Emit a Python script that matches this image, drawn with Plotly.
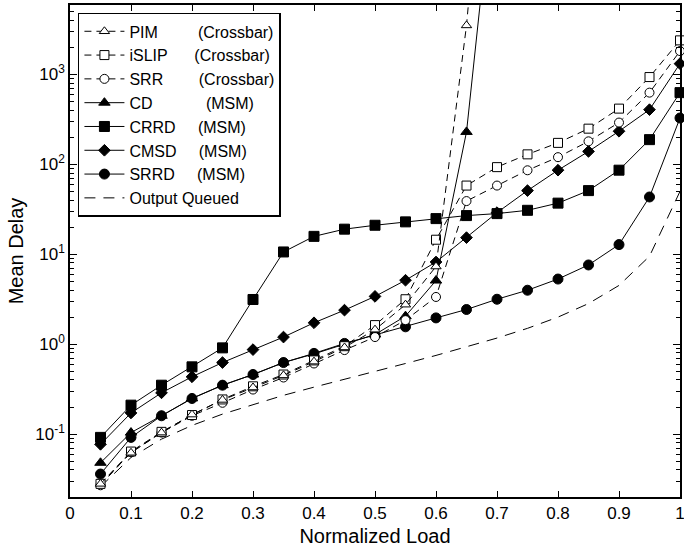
import plotly.graph_objects as go

load = [0.05, 0.10, 0.15, 0.20, 0.25, 0.30, 0.35, 0.40, 0.45, 0.50,
        0.55, 0.60, 0.65, 0.70, 0.75, 0.80, 0.85, 0.90, 0.95, 1.00]

pim = [0.028, 0.062, 0.104, 0.165, 0.24, 0.33, 0.45, 0.64, 0.92, 1.45,
       2.75, 7.3, 3500, 2.0e7]
islip = [0.028, 0.064, 0.106, 0.163, 0.243, 0.34, 0.46, 0.66, 0.95, 1.63,
         3.16, 14.5, 58, 93, 129, 173, 249, 416, 933, 2387]
srr = [0.027, 0.063, 0.104, 0.16, 0.223, 0.313, 0.426, 0.61, 0.86, 1.2,
       1.85, 3.35, 39, 58, 85.8, 120, 180, 291, 626, 1815]
cd = [0.048, 0.104, 0.16, 0.25, 0.35, 0.46, 0.625, 0.78, 1.0, 1.28,
      2.05, 5.1, 229, 3.5e5]
crrd = [0.092, 0.21, 0.35, 0.56, 0.91, 3.14, 10.6, 15.8, 19.0, 21.0,
        22.9, 24.9, 26.9, 28.3, 30.8, 37.0, 51.0, 86.0, 188, 626]
cmsd = [0.077, 0.172, 0.288, 0.434, 0.625, 0.87, 1.2, 1.73, 2.39, 3.4,
        5.14, 8.2, 15.3, 29.0, 51.0, 86.0, 139, 233, 405, 1315]
srrd = [0.036, 0.092, 0.16, 0.249, 0.35, 0.46, 0.625, 0.79, 1.02, 1.26,
        1.56, 1.96, 2.43, 3.16, 3.98, 5.3, 7.6, 12.8, 43.3, 327]
oq = [0.026, 0.055, 0.088, 0.125, 0.167, 0.214, 0.27, 0.333, 0.41, 0.5,
      0.61, 0.75, 0.93, 1.17, 1.5, 2.0, 2.83, 4.5, 9.5, 50]

NB = "\u00a0"
names = ["PIM" + NB * 9 + "(Crossbar)",
         "iSLIP" + NB * 6 + "(Crossbar)",
         "SRR" + NB * 8 + "(Crossbar)",
         "CD" + NB * 12 + "(MSM)",
         "CRRD" + NB * 5 + "(MSM)",
         "CMSD" + NB * 5 + "(MSM)",
         "SRRD" + NB * 5 + "(MSM)",
         "Output Queued"]

y_tickvals = [0.1, 1, 10, 100, 1000]
y_ticktext = ["10<sup>-1</sup>", "10<sup>0</sup>", "10<sup>1</sup>",
              "10<sup>2</sup>", "10<sup>3</sup>"]
x_tickvals = [0, 0.1, 0.2, 0.3, 0.4, 0.5, 0.6, 0.7, 0.8, 0.9, 1.0]
x_ticktext = ["0", "0.1", "0.2", "0.3", "0.4", "0.5", "0.6", "0.7", "0.8", "0.9", "1"]

FONT = "Arial, Liberation Sans, sans-serif"
DASH_X = "7px,5px"
DASH_OQ = "11px,8px"

fig = go.Figure()

def add(y, name, symbol, fill, dash, size, mode="lines+markers"):
    fig.add_trace(go.Scatter(
        x=load[:len(y)], y=y, name=name, mode=mode,
        line=dict(color="black", width=1, dash=dash),
        marker=dict(symbol=symbol, size=size, color=fill,
                    line=dict(color="black", width=1)),
        cliponaxis=False,
    ))

add(oq, names[7], "circle", "black", DASH_OQ, 6, mode="lines")
add(srrd, names[6], "circle", "black", "solid", 10)
add(cmsd, names[5], "diamond", "black", "solid", 9)
add(crrd, names[4], "square", "black", "solid", 10)
add(cd, names[3], "triangle-up", "black", "solid", 10)
add(srr, names[2], "circle", "white", DASH_X, 9)
add(islip, names[1], "square", "white", DASH_X, 9)
add(pim, names[0], "triangle-up", "white", DASH_X, 9)

fig.update_layout(
    width=684, height=554,
    margin=dict(l=70, r=4, t=5, b=57),
    paper_bgcolor="white", plot_bgcolor="white",
    font=dict(family=FONT, size=17, color="black"),
    showlegend=True,
    legend=dict(
        x=0.013, y=0.984, xanchor="left", yanchor="top",
        bgcolor="white", bordercolor="black", borderwidth=1.5,
        font=dict(family=FONT, size=16, color="black"),
        traceorder="reversed", itemwidth=40, tracegroupgap=0,
    ),
)

fig.update_xaxes(
    range=[0, 1], tickmode="array", tickvals=x_tickvals, ticktext=x_ticktext,
    ticks="inside", ticklen=6, tickwidth=1, tickcolor="black",
    showline=True, linecolor="black", linewidth=1.5, mirror="ticks",
    showgrid=False, zeroline=False, automargin=False,
    ticklabeloverflow="allow",
    tickfont=dict(family=FONT, size=17),
    title=dict(text="Normalized Load", font=dict(family=FONT, size=20), standoff=7),
)

minor_vals = [m * 10 ** e for e in range(-2, 4) for m in range(2, 10)]
fig.update_yaxes(
    type="log", range=[-1.699, 3.771],
    tickmode="array", tickvals=y_tickvals, ticktext=y_ticktext,
    ticks="inside", ticklen=7, tickwidth=1, tickcolor="black",
    minor=dict(tickmode="array", tickvals=minor_vals, ticks="inside",
               ticklen=4, tickcolor="black", showgrid=False),
    showline=True, linecolor="black", linewidth=1.5, mirror="ticks",
    showgrid=False, zeroline=False, automargin=False,
    ticklabeloverflow="allow",
    tickfont=dict(family=FONT, size=17),
    title=dict(text="Mean Delay", font=dict(family=FONT, size=20), standoff=6),
)

# remove the browser's default 8px body margin so the figure fills the window
fig.write_html("out.html",
               config={"displayModeBar": False},
               post_script="document.body.style.margin='0';document.body.style.overflow='hidden';")
